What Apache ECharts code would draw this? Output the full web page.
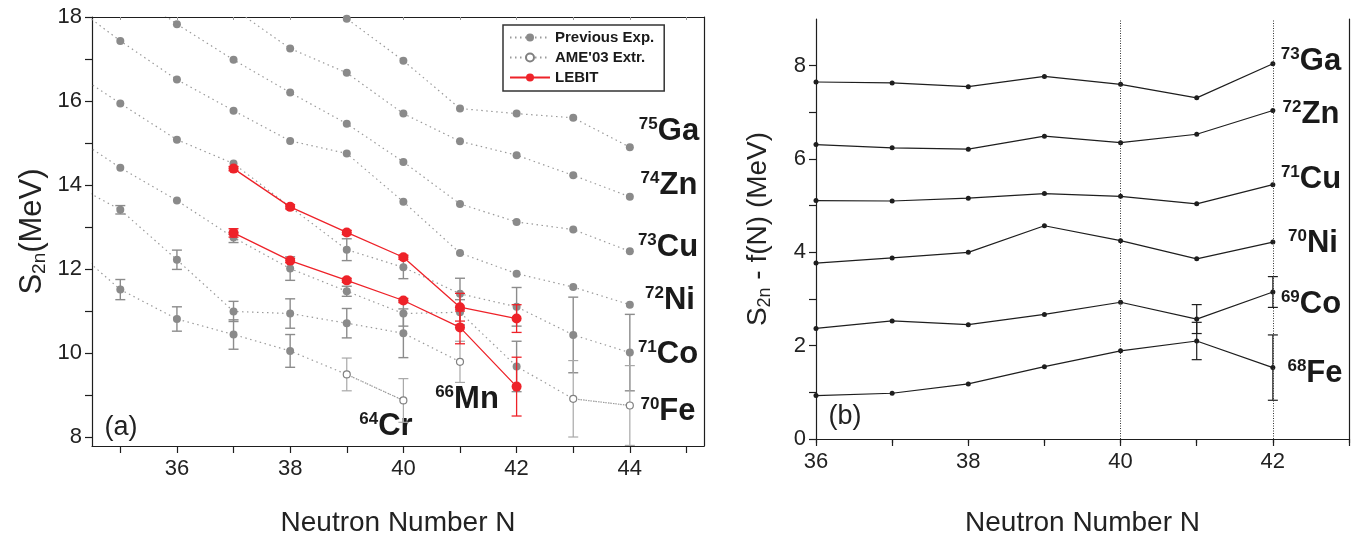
<!DOCTYPE html>
<html>
<head>
<meta charset="utf-8">
<script src="https://cdn.jsdelivr.net/npm/echarts@6.0.0/dist/echarts.min.js"></script>
<style>
  html, body { margin: 0; padding: 0; background: #fff; }
  #chart { width: 1365px; height: 538px; }
</style>
</head>
<body>
<div id="chart"></div>
<script>
// ---- panel (a): S2n of isotopic chains, N = 34..44 ----
const nLeft = [34, 35, 36, 37, 38, 39, 40, 41, 42, 43, 44];
const s2nGa = [null, null, null, null, 18.9, 17.96, 16.96, 15.82, 15.70, 15.60, 14.90];
const s2nZn = [null, null, null, 18.2, 17.25, 16.67, 15.70, 15.04, 14.71, 14.23, 13.72];
const s2nCu = [null, 18.8, 17.83, 16.98, 16.20, 15.46, 14.55, 13.55, 13.12, 12.94, 12.42];
const s2nNi = [18.45, 17.43, 16.51, 15.77, 15.05, 14.75, 13.60, 12.38, 11.89, 11.57, 11.15];
const s2nCo = [16.84, 15.94, 15.08, 14.51, 13.48, 12.46, 12.04, 11.41, 11.10, 10.43, 10.01];
const s2nFe = [15.31, 14.41, 13.63, 12.75, 12.01, 11.47, 10.94, 10.97, 9.68, 8.91, 8.75];
const s2nMn = [14.14, 13.41, 12.22, 10.99, 10.94, 10.71, 10.47, 9.79, null, null, null];
const s2nCr = [12.69, 11.51, 10.81, 10.44, 10.05, 9.49, 8.87, null, null, null, null];

const errCo = [null, null, null, null, null, 0.26, 0.27, 0.37, 0.46, 0.90, 0.91];
const errFe = [null, null, null, 0.12, 0.28, 0.12, 0.30, 0.30, 0.60, 0.91, 0.95];
const errMn = [null, 0.10, 0.23, 0.24, 0.35, 0.35, 0.58, 0.49, null, null, null];
const errCr = [null, 0.24, 0.29, 0.35, 0.39, 0.39, 0.52, null, null, null, null];

// AME'03 extrapolated points (open circles)
const ameChain = ['Cr', 'Cr', 'Mn', 'Fe', 'Fe'];
const ameN = [39, 40, 41, 43, 44];

// LEBIT
const nLebit = [37, 38, 39, 40, 41, 42];
const lebitCo = [14.39, 13.48, 12.87, 12.28, 11.09, 10.82];
const lebitFe = [12.86, 12.20, 11.73, 11.25, 10.61, 9.20];
const lebitCoErr = [0.05, 0.05, 0.05, 0.05, 0.33, 0.33];
const lebitFeErr = [0.10, 0.05, 0.05, 0.05, 0.39, 0.70];

const leftTicks = [35, 36, 37, 38, 39, 40, 41, 42, 43, 44, 45];
const leftLabels = [36, 38, 40, 42, 44];
const leftYTicks = [8, 9, 10, 11, 12, 13, 14, 15, 16, 17, 18];
const leftYLabels = [8, 10, 12, 14, 16, 18];

// ---- panel (b): S2n - f(N), N = 36..42 ----
const nRight = [36, 37, 38, 39, 40, 41, 42];
const diffGa = [7.65, 7.63, 7.55, 7.77, 7.60, 7.31, 8.04];
const diffZn = [6.31, 6.24, 6.21, 6.49, 6.35, 6.53, 7.04];
const diffCu = [5.11, 5.10, 5.16, 5.26, 5.20, 5.04, 5.45];
const diffNi = [3.77, 3.88, 4.00, 4.57, 4.25, 3.86, 4.22];
const diffCo = [2.37, 2.53, 2.45, 2.67, 2.93, 2.57, 3.15];
const diffFe = [0.93, 0.98, 1.18, 1.55, 1.89, 2.10, 1.53];
const diffCoErr = [null, null, null, null, null, 0.31, 0.33];
const diffFeErr = [null, null, null, null, null, 0.40, 0.70];
const shellLines = [40, 42];
const rightYTicks = [0, 1, 2, 3, 4, 5, 6, 7, 8];
const rightYLabels = [0, 2, 4, 6, 8];

const FONT = '"Liberation Sans", Arial, Helvetica, sans-serif';
const INK = '#1e1e1e';
const GRAY = '#8a8a8a';
const RED = '#ee2229';
const DOTS = [1.5, 3.5];

const chains = { Ga: s2nGa, Zn: s2nZn, Cu: s2nCu, Ni: s2nNi, Co: s2nCo, Fe: s2nFe, Mn: s2nMn, Cr: s2nCr };
const chainErr = { Co: errCo, Fe: errFe, Mn: errMn, Cr: errCr };

function isAme(key, n) {
    return ameChain.some((c, i) => c === key && ameN[i] === n);
}

function errBar(color, half, width) {
    return function (params, api) {
        const x = api.value(0), y = api.value(1), e = api.value(2);
        const p1 = api.coord([x, y + e]);
        const p2 = api.coord([x, y - e]);
        const st = { stroke: color, lineWidth: width };
        return {
            type: 'group',
            children: [
                { type: 'line', shape: { x1: p1[0], y1: p1[1], x2: p2[0], y2: p2[1] }, style: st },
                { type: 'line', shape: { x1: p1[0] - half, y1: p1[1], x2: p1[0] + half, y2: p1[1] }, style: st },
                { type: 'line', shape: { x1: p2[0] - half, y1: p2[1], x2: p2[0] + half, y2: p2[1] }, style: st },
            ],
        };
    };
}

const series = [];

// gray error bars (previous exp + AME)
const grayErrData = [];
const ameErrData = [];
Object.keys(chainErr).forEach(key => {
    chainErr[key].forEach((e, i) => {
        if (e == null || chains[key][i] == null) return;
        const item = [nLeft[i], chains[key][i], e];
        (isAme(key, nLeft[i]) ? ameErrData : grayErrData).push(item);
    });
});
series.push({
    type: 'custom', xAxisIndex: 0, yAxisIndex: 0, clip: true, silent: true, z: 1,
    renderItem: errBar('#8c8c8c', 5, 1.4), data: grayErrData, encode: { x: 0, y: 1 },
});
series.push({
    type: 'custom', xAxisIndex: 0, yAxisIndex: 0, clip: true, silent: true, z: 1,
    renderItem: errBar('#a8a8a8', 5, 1.2), data: ameErrData, encode: { x: 0, y: 1 },
});

// chains (dotted gray)
Object.keys(chains).forEach(key => {
    const data = [];
    chains[key].forEach((v, i) => {
        if (v == null) return;
        if (isAme(key, nLeft[i])) data.push({ value: [nLeft[i], v], symbol: 'none' });
        else data.push([nLeft[i], v]);
    });
    series.push({
        type: 'line', name: 'Previous Exp.', xAxisIndex: 0, yAxisIndex: 0, data,
        symbol: 'circle', symbolSize: 8, silent: true, z: 2,
        itemStyle: { color: GRAY },
        lineStyle: { color: '#9a9a9a', width: 1.2, type: DOTS },
    });
});

// AME points
const ameData = [];
ameN.forEach((n, i) => {
    if (i > 0 && (ameChain[i] !== ameChain[i - 1] || n !== ameN[i - 1] + 1)) ameData.push([n, '-']);
    ameData.push([n, chains[ameChain[i]][nLeft.indexOf(n)]]);
});
series.push({
    type: 'line', name: "AME'03 Extr.", xAxisIndex: 0, yAxisIndex: 0, data: ameData,
    symbol: 'circle', symbolSize: 7, silent: true, z: 3, connectNulls: false,
    itemStyle: { color: '#fff', borderColor: '#808080', borderWidth: 1.2 },
    lineStyle: { color: '#9a9a9a', width: 1.2, type: DOTS },
});

// LEBIT
const redErr = [];
nLebit.forEach((n, i) => {
    redErr.push([n, lebitCo[i], lebitCoErr[i]]);
    redErr.push([n, lebitFe[i], lebitFeErr[i]]);
});
series.push({
    type: 'custom', xAxisIndex: 0, yAxisIndex: 0, clip: true, silent: true, z: 4,
    renderItem: errBar(RED, 5, 1.3), data: redErr, encode: { x: 0, y: 1 },
});
[lebitCo, lebitFe].forEach(arr => {
    series.push({
        type: 'line', name: 'LEBIT', xAxisIndex: 0, yAxisIndex: 0,
        data: nLebit.map((n, i) => [n, arr[i]]),
        symbol: 'circle', symbolSize: 10, silent: true, z: 5,
        itemStyle: { color: RED },
        lineStyle: { color: RED, width: 1.3 },
    });
});

// panel (b)
[diffGa, diffZn, diffCu, diffNi, diffCo, diffFe].forEach((arr, k) => {
    const s = {
        type: 'line', xAxisIndex: 2, yAxisIndex: 2,
        data: nRight.map((n, i) => [n, arr[i]]),
        symbol: 'circle', symbolSize: 5, silent: true, z: 3,
        itemStyle: { color: INK },
        lineStyle: { color: INK, width: 1.2 },
    };
    if (k === 0) {
        s.markLine = {
            silent: true, symbol: ['none', 'none'], label: { show: false },
            lineStyle: { color: '#333', width: 1, type: [1, 1.5] },
            data: shellLines.map(v => ({ xAxis: v })),
            animation: false,
        };
    }
    series.push(s);
});
const blackErr = [];
nRight.forEach((n, i) => {
    if (diffCoErr[i] != null) blackErr.push([n, diffCo[i], diffCoErr[i]]);
    if (diffFeErr[i] != null) blackErr.push([n, diffFe[i], diffFeErr[i]]);
});
series.push({
    type: 'custom', xAxisIndex: 2, yAxisIndex: 2, clip: true, silent: true, z: 2,
    renderItem: errBar(INK, 5, 1.2), data: blackErr, encode: { x: 0, y: 1 },
});

const axisLine = { show: true, lineStyle: { color: INK, width: 1.2 } };
const tickStyle = { color: INK, width: 1.2 };
const labelStyle = { fontSize: 22, color: '#222', fontFamily: FONT };
const titleStyle = { fontSize: 28, color: '#222', fontFamily: FONT };

function isoText(x, y, mass, el) {
    return {
        type: 'text', x, y, silent: true,
        style: {
            text: '{s|' + mass + '}{b|' + el + '}',
            align: 'center', verticalAlign: 'middle',
            rich: {
                s: { fontSize: 17, fontWeight: 'bold', fontFamily: FONT, fill: '#1a1a1a', lineHeight: 17, verticalAlign: 'top' },
                b: { fontSize: 31, fontWeight: 'bold', fontFamily: FONT, fill: '#1a1a1a', lineHeight: 31, verticalAlign: 'bottom' },
            },
        },
    };
}

const option = {
    animation: false,
    backgroundColor: '#fff',
    grid: [
        { left: 92, top: 17, width: 612, height: 429, outerBoundsMode: 'none' },
        { left: 816, top: 19, width: 533, height: 420, outerBoundsMode: 'none' },
    ],
    legend: {
        left: 503, top: 25, orient: 'vertical', selectedMode: false,
        data: ['Previous Exp.', "AME'03 Extr.", 'LEBIT'],
        itemWidth: 40, itemHeight: 10, itemGap: 5,
        padding: [5, 10, 6, 6],
        borderColor: '#333', borderWidth: 1.5,
        textStyle: { fontSize: 15, fontWeight: 'bold', color: '#1a1a1a', fontFamily: FONT },
    },
    xAxis: [
        {
            gridIndex: 0, type: 'value', min: 34.5, max: 45.31, position: 'bottom',
            axisLine,
            axisTick: { show: true, length: 7, customValues: leftTicks, lineStyle: tickStyle },
            axisLabel: { customValues: leftLabels, margin: 12, ...labelStyle },
            splitLine: { show: false },
            name: 'Neutron Number N', nameLocation: 'middle', nameGap: 63, nameTextStyle: titleStyle,
        },
        {
            gridIndex: 0, type: 'value', min: 34.5, max: 45.31, position: 'top',
            axisLine,
            axisTick: { show: true, inside: true, length: 3, customValues: leftTicks, lineStyle: { color: '#999', width: 1 } },
            axisLabel: { show: false }, splitLine: { show: false },
        },
        {
            gridIndex: 1, type: 'value', min: 36, max: 43, interval: 1, position: 'bottom',
            axisLine,
            axisTick: { show: true, length: 7, lineStyle: tickStyle },
            axisLabel: { margin: 12, formatter: v => (v % 2 === 0 ? String(v) : ''), ...labelStyle },
            splitLine: { show: false },
            name: 'Neutron Number N', nameLocation: 'middle', nameGap: 70, nameTextStyle: titleStyle,
        },
        {
            gridIndex: 1, type: 'value', min: 36, max: 43, interval: 1, position: 'top',
            axisLine,
            axisTick: { show: true, inside: true, length: 4, lineStyle: tickStyle },
            axisLabel: { show: false }, splitLine: { show: false },
        },
    ],
    yAxis: [
        {
            gridIndex: 0, type: 'value', min: 7.786, max: 18, position: 'left',
            axisLine,
            axisTick: { show: true, length: 7, customValues: leftYTicks, lineStyle: tickStyle },
            axisLabel: { customValues: leftYLabels, margin: 10, ...labelStyle },
            splitLine: { show: false },
            name: '{a|S}{b|2n}{a|(MeV)}', nameLocation: 'middle', nameGap: 43,
            nameTextStyle: {
                rich: {
                    a: { fontSize: 31, color: '#222', fontFamily: FONT, lineHeight: 32, verticalAlign: 'top' },
                    b: { fontSize: 19, color: '#222', fontFamily: FONT, lineHeight: 19, verticalAlign: 'bottom' },
                },
            },
        },
        {
            gridIndex: 0, type: 'value', min: 7.786, max: 18, position: 'right',
            axisLine, axisTick: { show: false }, axisLabel: { show: false }, splitLine: { show: false },
        },
        {
            gridIndex: 1, type: 'value', min: 0, max: 9, position: 'left',
            axisLine,
            axisTick: { show: true, length: 7, customValues: rightYTicks, lineStyle: tickStyle },
            axisLabel: { customValues: rightYLabels, margin: 10, ...labelStyle },
            splitLine: { show: false },
            name: '{a|S}{b|2n}{a| - f(N) (MeV)}', nameLocation: 'middle', nameGap: 42,
            nameTextStyle: {
                rich: {
                    a: { fontSize: 28, color: '#222', fontFamily: FONT, lineHeight: 30, verticalAlign: 'top' },
                    b: { fontSize: 18, color: '#222', fontFamily: FONT, lineHeight: 18, verticalAlign: 'bottom' },
                },
            },
        },
        {
            gridIndex: 1, type: 'value', min: 0, max: 9, position: 'right',
            axisLine, axisTick: { show: false }, axisLabel: { show: false }, splitLine: { show: false },
        },
    ],
    graphic: [
        isoText(669, 131, '75', 'Ga'),
        isoText(669, 185, '74', 'Zn'),
        isoText(668, 247, '73', 'Cu'),
        isoText(670, 300, '72', 'Ni'),
        isoText(668, 354, '71', 'Co'),
        isoText(668, 411, '70', 'Fe'),
        isoText(467, 399, '66', 'Mn'),
        isoText(386, 426, '64', 'Cr'),
        isoText(1311, 61, '73', 'Ga'),
        isoText(1311, 114, '72', 'Zn'),
        isoText(1311, 179, '71', 'Cu'),
        isoText(1313, 243, '70', 'Ni'),
        isoText(1311, 304, '69', 'Co'),
        isoText(1315, 373, '68', 'Fe'),
        { type: 'text', x: 121, y: 428, silent: true, style: { text: '(a)', fontSize: 27, fontFamily: FONT, fill: '#222', align: 'center', verticalAlign: 'middle' } },
        { type: 'text', x: 845, y: 417, silent: true, style: { text: '(b)', fontSize: 27, fontFamily: FONT, fill: '#222', align: 'center', verticalAlign: 'middle' } },
    ],
    series,
};

const chart = echarts.init(document.getElementById('chart'), null, { renderer: 'canvas' });
chart.setOption(option);
</script>
</body>
</html>
